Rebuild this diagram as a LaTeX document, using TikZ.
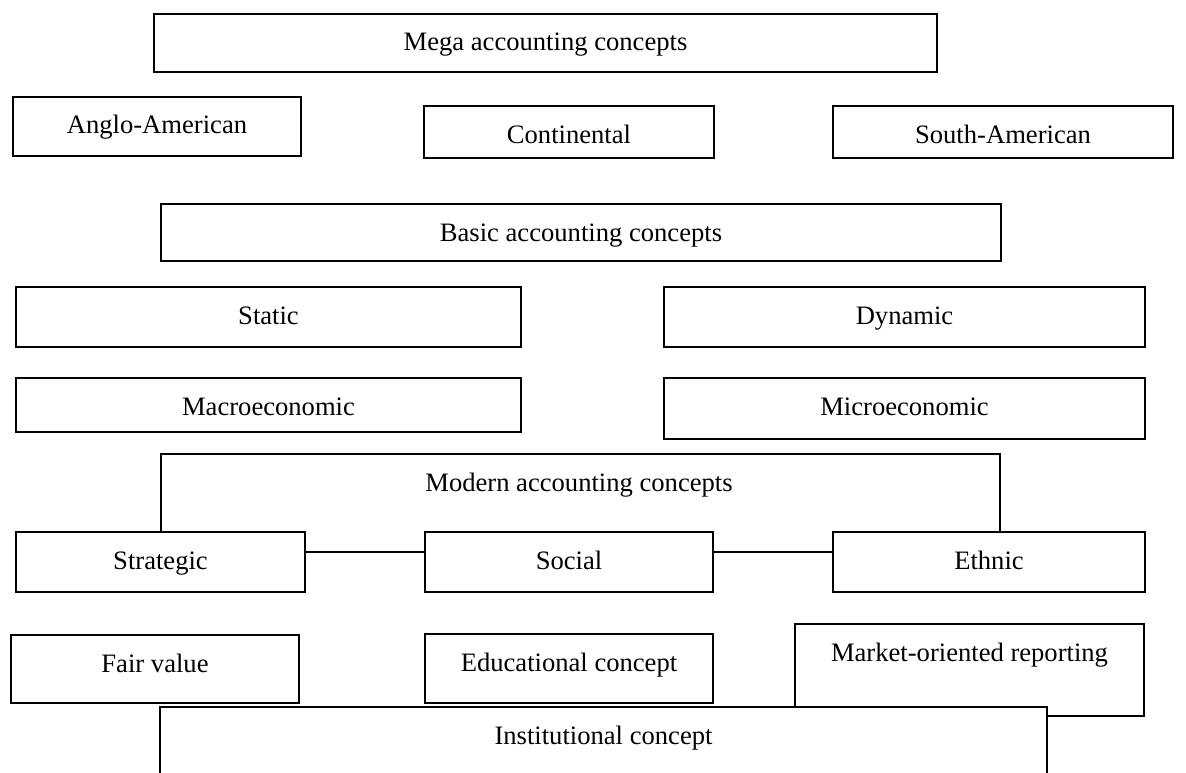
\documentclass[tikz,border=0pt]{standalone}
\usepackage{fontspec}
\setmainfont{Liberation Serif}

\begin{document}
\begin{tikzpicture}[x=1pt,y=-1pt,line width=2pt,
    font=\fontsize{26.6}{32}\selectfont,
    box/.style={draw,anchor=north west,inner sep=0pt,text height=37pt,minimum width=#1}]

    \useasboundingbox (0,0) rectangle (1186,773);
    \clip (0,0) rectangle (1186,773);

    \node[box=783pt,text depth=21pt] (mega) at (153,13) {Mega accounting concepts};
    \node[box=288pt,text depth=22pt] (anglo) at (12,96) {Anglo-American};
    \node[box=290pt,text depth=15pt] (cont) at (423,105) {Continental};
    \node[box=340pt,text depth=15pt] (south) at (832,105) {South-American};

    \node[box=840pt,text depth=20pt] (basic) at (160,203) {Basic accounting concepts};
    \node[box=505pt,text depth=23pt] (static) at (15,286) {Static};
    \node[box=481pt,text depth=23pt] (dynamic) at (663,286) {Dynamic};
    \node[box=505pt,text depth=17pt] (macro) at (15,377) {Macroeconomic};
    \node[box=481pt,text depth=24pt] (micro) at (663,377) {Microeconomic};

    \node[anchor=north,inner sep=0pt,text height=36pt] (modern) at (579,454) {Modern accounting concepts};
    \node[box=289pt,text depth=23pt] (strategic) at (15,531) {Strategic};
    \node[box=288pt,text depth=23pt] (social) at (424,531) {Social};
    \node[box=312pt,text depth=23pt] (ethnic) at (832,531) {Ethnic};

    \node[box=288pt,text depth=31pt] (fair) at (10,634) {Fair value};
    \node[box=288pt,text depth=32pt] (edu) at (424,633) {Educational concept};
    \node[box=349pt,text depth=55pt] (market) at (794,623) {Market-oriented reporting};
    \node[box=887pt,text depth=80pt,fill=white] (inst) at (159,706) {Institutional concept};

    \draw (strategic.north) |- (modern.north) -| ([xshift=11pt]ethnic.north);
    \path
    ([yshift=10pt]strategic.east) edge ([yshift=10pt]social.west)
    ([yshift=10pt]social.east) edge ([yshift=10pt]ethnic.west)
    ;
\end{tikzpicture}
\end{document}
